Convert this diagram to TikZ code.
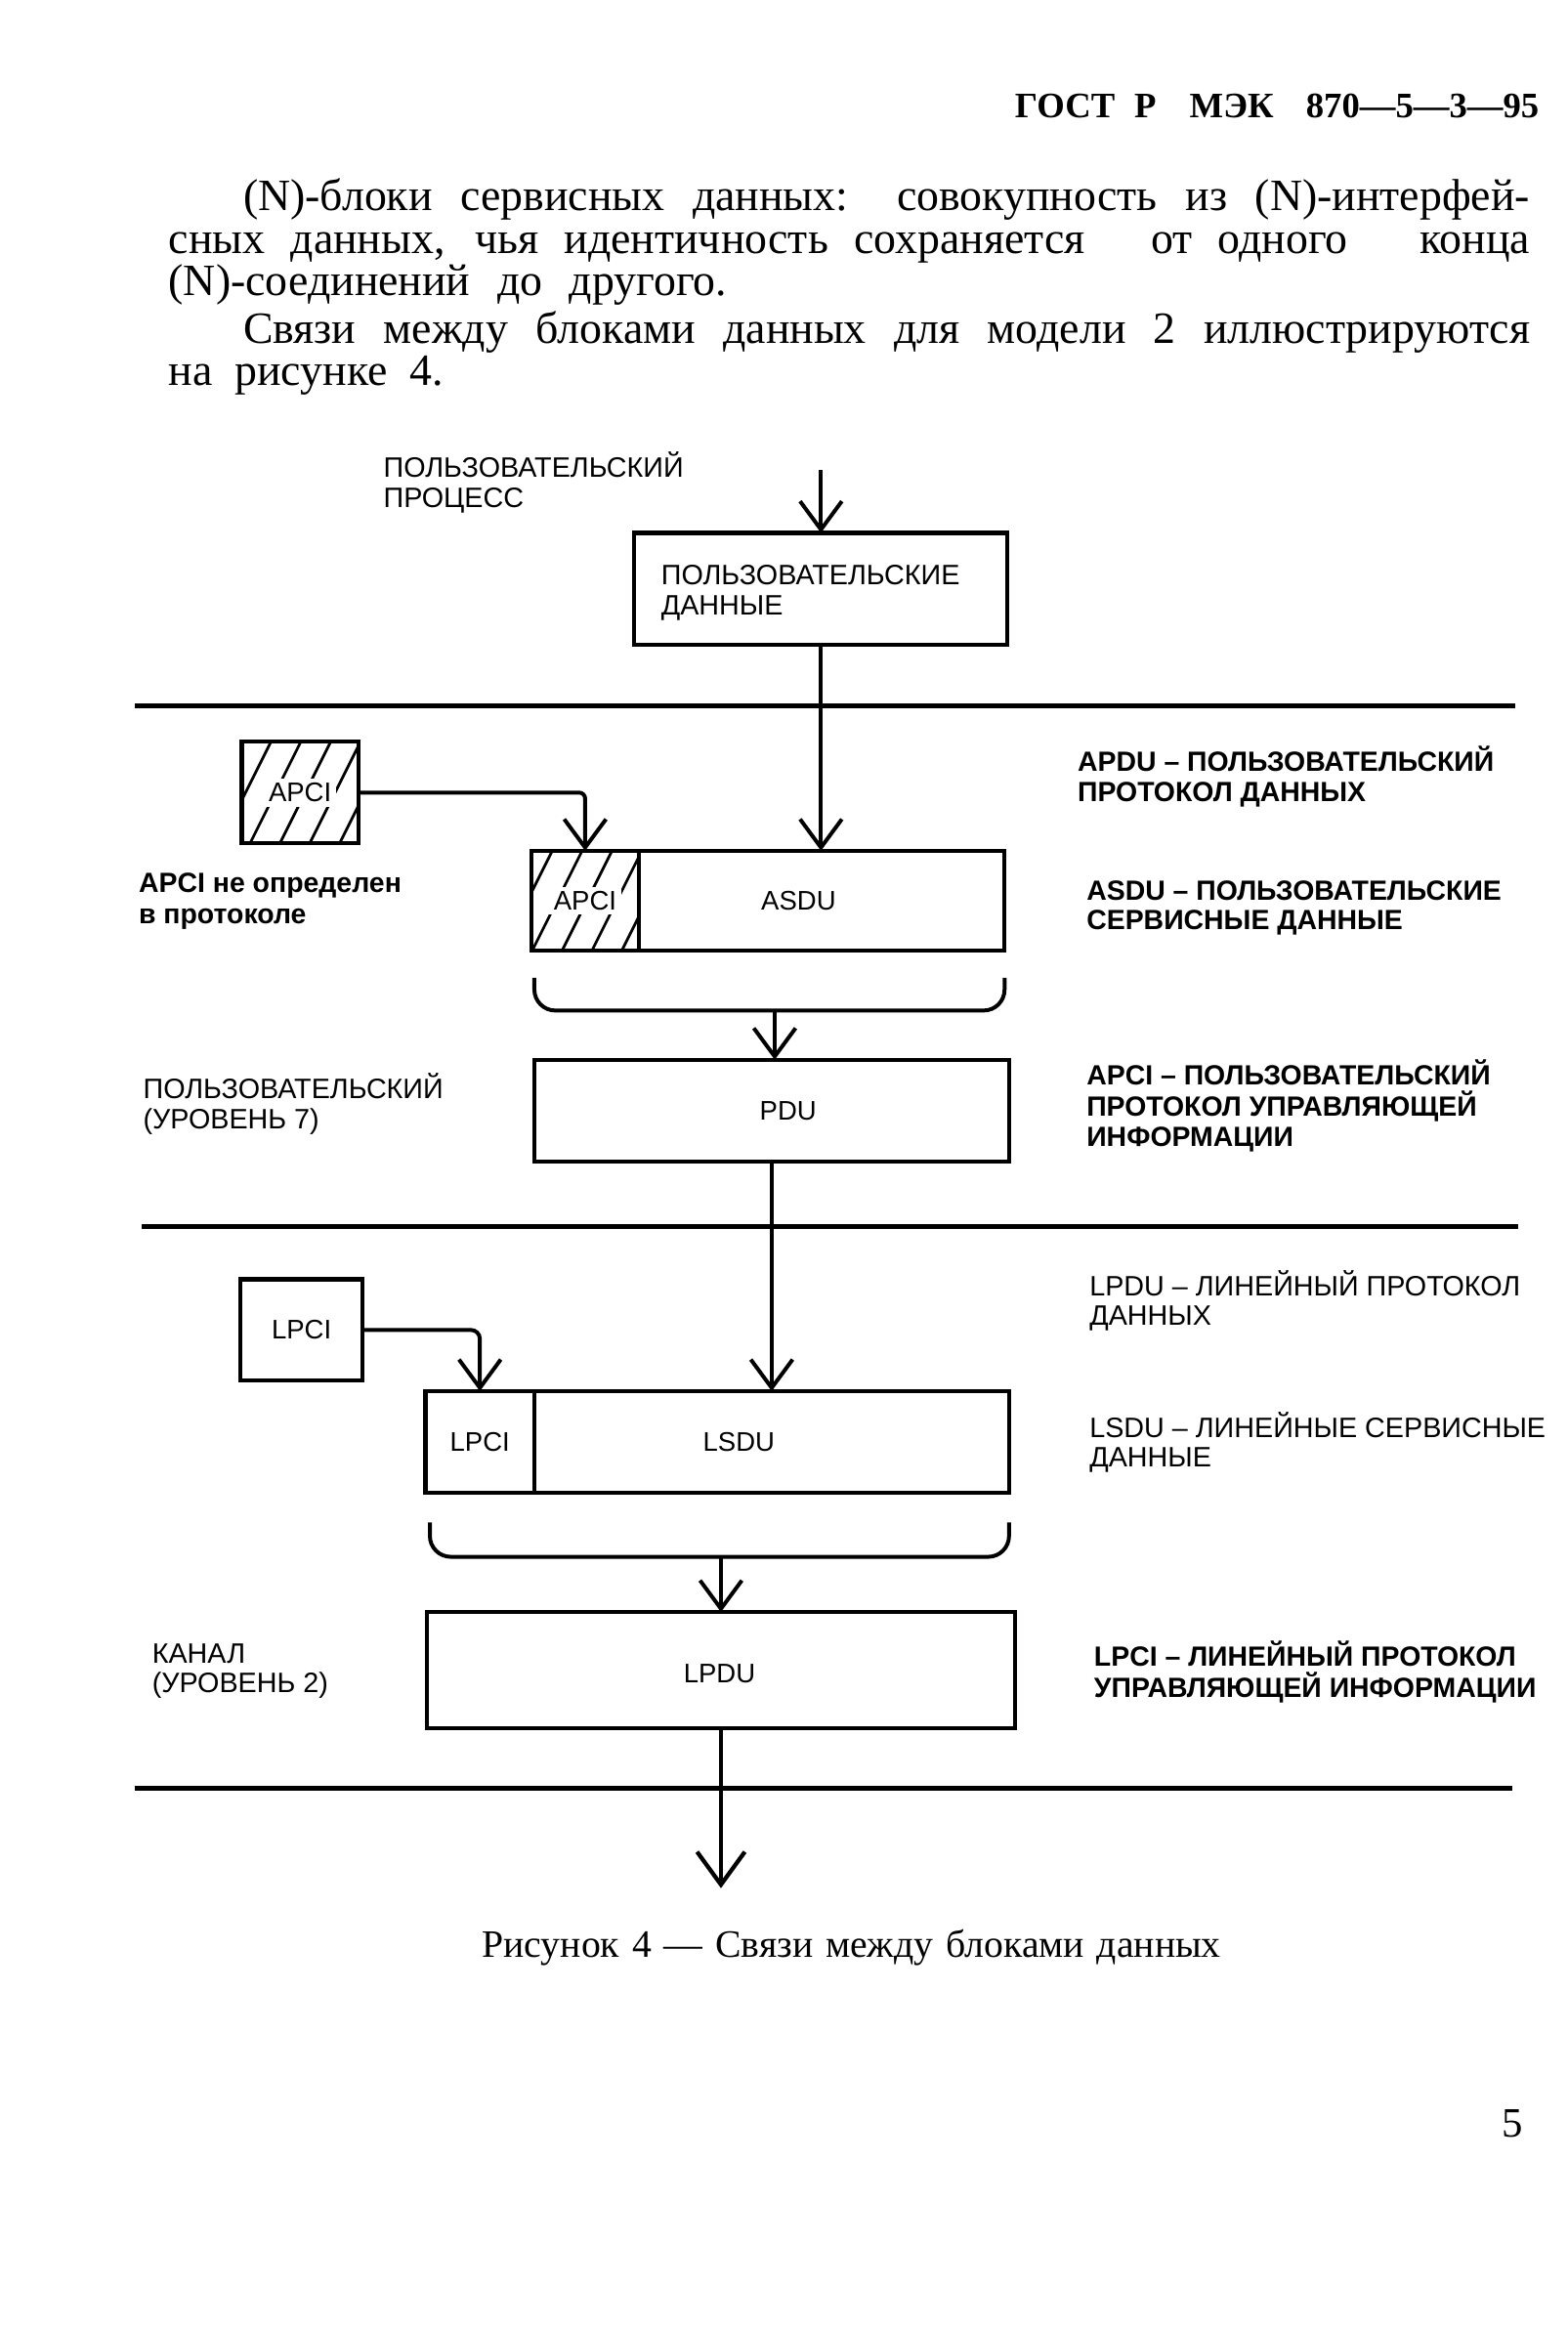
\documentclass[tikz,border=0pt]{standalone}
\usepackage{fontspec}
\setmainfont{Liberation Serif}
\setsansfont{Liberation Sans}
\usetikzlibrary{arrows.meta}
\begin{document}
\begin{tikzpicture}[x=0.5pt,y=-0.5pt,
  every node/.style={inner sep=0pt,outer sep=0pt},
  body/.style={font=\fontsize{15}{16}\selectfont,anchor=base west},
  hdrf/.style={font=\bfseries\fontsize{12}{14}\selectfont,anchor=base west},
  lbl/.style={font=\sffamily\fontsize{9.4}{10}\selectfont,anchor=base west},
  blbl/.style={font=\sffamily\bfseries\fontsize{9.3}{10}\selectfont,anchor=base west},
  boxtxt/.style={font=\sffamily\fontsize{9}{10}\selectfont},
  blk/.style={draw,line width=1.4pt,rectangle},
  conn/.style={line width=1.3pt},
  arr/.style={line width=1.3pt,-{Straight Barb[length=9.5pt,width=14pt]}},
  bigarr/.style={line width=1.4pt,-{Straight Barb[length=11pt,width=16pt]}},
  sep/.style={line width=1.6pt},
  hatch/.style={line width=0.9pt},
]
\useasboundingbox (0,0) rectangle (1050,1561);
\fill[white] (0,0) rectangle (1050,1561);

% header and text
\node[hdrf] (hdr1) at (680,79) {ГОСТ};
\node[hdrf] (hdr2) at (760,79) {Р};
\node[hdrf] (hdr3) at (797,79) {МЭК};
\node[hdrf,anchor=base east] (hdr4) at (1031,79) {870—5—3—95};
\node[body] (t1) at (163,141) {\makebox[431pt][s]{(N)-блоки сервисных данных: совокупность из (N)-интерфей-}};
\node[body] (t2a) at (113,170) {\makebox[307pt][s]{сных данных, чья идентичность сохраняется}};
\node[body] (t2b) at (771,170) {\makebox[66pt][s]{от одного}};
\node[body,anchor=base east] (t2c) at (1025,170) {конца};
\node[body] (t3) at (113,198) {\makebox[187pt][s]{(N)-соединений до другого.}};
\node[body] (t4) at (163,230) {\makebox[431pt][s]{Связи между блоками данных для модели 2 иллюстрируются}};
\node[body] (t5) at (113,258) {\makebox[92pt][s]{на рисунке 4.}};

% user process
\node[lbl] (up1) at (257,320) {ПОЛЬЗОВАТЕЛЬСКИЙ};
\node[lbl] (up2) at (257,340) {ПРОЦЕСС};
\node[blk,minimum width=125pt,minimum height=37.5pt] (ud) at (550,394.5) {};
\node[lbl] (udt1) at (443,392) {ПОЛЬЗОВАТЕЛЬСКИЕ};
\node[lbl] (udt2) at (443,412) {ДАННЫЕ};
\coordinate (in) at (550,315);
\draw[arr] (in) -- (ud.north);

% separators
\draw[sep] (90,473) -- (1015,473);
\draw[sep] (95,822) -- (1017,822);
\draw[sep] (90,1198) -- (1013,1198);

% APCI standalone
\node[blk,minimum width=39pt,minimum height=34pt] (apcis) at (201,531) {};
\begin{scope}
\clip (apcis.south west) rectangle (apcis.north east);
\foreach \i in {0,...,8} \draw[hatch] (120+\i*20,580) -- ++(45,-90);
\end{scope}
\node[boxtxt,fill=white,inner sep=1.5pt] (apcist) at (apcis.center) {APCI};

% ASDU composite
\node[blk,minimum width=36pt,minimum height=33.5pt] (apci) at (392,603.5) {};
\node[blk,minimum width=122.5pt,minimum height=33.5pt] (asdu) at (550.5,603.5) {};
\begin{scope}
\clip (apci.south west) rectangle (apci.north east);
\foreach \i in {0,...,8} \draw[hatch] (310+\i*20,650) -- ++(45,-90);
\end{scope}
\node[boxtxt,fill=white,inner sep=1.5pt] (apcit) at (apci.center) {APCI};
\node[boxtxt] (asdut) at (535,603.5) {ASDU};

\draw[arr] (ud.south) -- (ud.south |- asdu.north);
\draw[arr,rounded corners=2pt] (apcis.east) -| (apci.north);

\node[blbl] (nd1) at (93,598) {APCI не определен};
\node[blbl] (nd2) at (93,619) {в протоколе};

% right labels top
\node[blbl] (r1a) at (722,517) {APDU – ПОЛЬЗОВАТЕЛЬСКИЙ};
\node[blbl] (r1b) at (722,537) {ПРОТОКОЛ ДАННЫХ};
\node[blbl] (r2a) at (728,603) {ASDU – ПОЛЬЗОВАТЕЛЬСКИЕ};
\node[blbl] (r2b) at (728,623) {СЕРВИСНЫЕ ДАННЫЕ};
\node[blbl] (r3a) at (728,727) {APCI – ПОЛЬЗОВАТЕЛЬСКИЙ};
\node[blbl] (r3b) at (728,748) {ПРОТОКОЛ УПРАВЛЯЮЩЕЙ};
\node[blbl] (r3c) at (728,768) {ИНФОРМАЦИИ};

% bracket 1 and PDU
\draw[conn,rounded corners=7pt] (358,655) -- (358,677) -- (673,677) -- (673,655);
\coordinate (b1) at (519,677);
\node[blk,minimum width=159pt,minimum height=34pt] (pdu) at (517,744) {};
\node[boxtxt] (pdut) at (528,744) {PDU};
\draw[arr] (b1) -- (b1 |- pdu.north);
\node[lbl] (ll1) at (96,736) {ПОЛЬЗОВАТЕЛЬСКИЙ};
\node[lbl] (ll2) at (96,756) {(УРОВЕНЬ 7)};

% LPCI standalone
\node[blk,minimum width=41pt,minimum height=34pt] (lpcis) at (202,891) {};
\node[boxtxt] (lpcist) at (lpcis.center) {LPCI};

% LSDU composite
\node[blk,minimum width=36.5pt,minimum height=34pt] (lpci) at (321.5,966) {};
\node[blk,minimum width=159pt,minimum height=34pt] (lsdu) at (517,966) {};
\node[boxtxt] (lpcit) at (lpci.center) {LPCI};
\node[boxtxt] (lsdut) at (495,966) {LSDU};

\draw[arr] (pdu.south) -- (lsdu.north);
\draw[arr,rounded corners=3pt] (lpcis.east) -| (lpci.north);

% right labels bottom
\node[lbl] (r4a) at (730,868) {LPDU – ЛИНЕЙНЫЙ ПРОТОКОЛ};
\node[lbl] (r4b) at (730,888) {ДАННЫХ};
\node[lbl] (r5a) at (730,963) {LSDU – ЛИНЕЙНЫЕ СЕРВИСНЫЕ};
\node[lbl] (r5b) at (730,983) {ДАННЫЕ};
\node[blbl] (r6a) at (733,1116) {LPCI – ЛИНЕЙНЫЙ ПРОТОКОЛ};
\node[blbl] (r6b) at (733,1137) {УПРАВЛЯЮЩЕЙ ИНФОРМАЦИИ};

% bracket 2 and LPDU
\draw[conn,rounded corners=7pt] (288,1020) -- (288,1043) -- (676,1043) -- (676,1020);
\coordinate (b2) at (483,1043);
\node[blk,minimum width=197pt,minimum height=39pt] (lpdu) at (483,1119) {};
\node[boxtxt] (lpdut) at (482,1121) {LPDU};
\draw[arr] (b2) -- (lpdu.north);
\node[lbl] (lk1) at (102,1114) {КАНАЛ};
\node[lbl] (lk2) at (102,1134) {(УРОВЕНЬ 2)};

\coordinate (out) at (483,1265);
\draw[bigarr] (lpdu.south) -- (out);

% caption and page number
\node[body,font=\fontsize{13}{14}\selectfont] (cap) at (323,1311) {\makebox[247.5pt][s]{Рисунок 4 — Связи между блоками данных}};
\node[anchor=base,font=\fontsize{14}{14}\selectfont] (pg) at (1013,1432) {5};
\end{tikzpicture}
\end{document}
